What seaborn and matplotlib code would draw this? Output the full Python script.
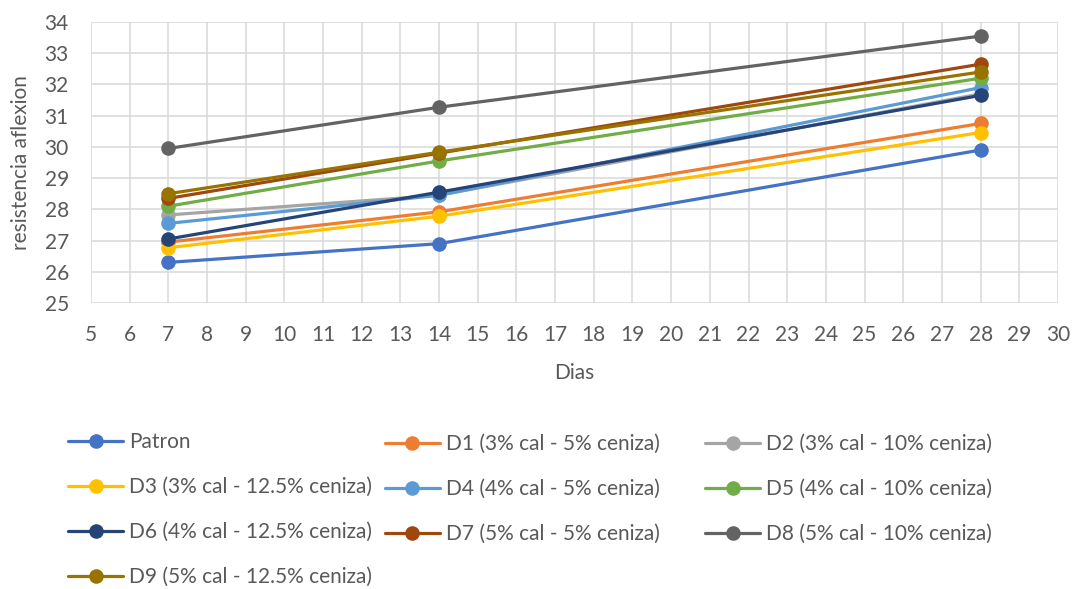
import matplotlib
matplotlib.use("Agg")
import matplotlib.pyplot as plt
import seaborn as sns
import pandas as pd

days = [7, 14, 28]
series_names = ["Patron", "D1 (3% cal - 5% ceniza)", "D2 (3% cal - 10% ceniza)",
                "D3 (3% cal - 12.5% ceniza)", "D4 (4% cal - 5% ceniza)", "D5 (4% cal - 10% ceniza)",
                "D6 (4% cal - 12.5% ceniza)", "D7 (5% cal - 5% ceniza)", "D8 (5% cal - 10% ceniza)",
                "D9 (5% cal - 12.5% ceniza)"]
patron = [26.3, 26.9, 29.9]
d1 = [26.95, 27.92, 30.75]
d2 = [27.82, 28.45, 31.7]
d3 = [26.77, 27.78, 30.46]
d4 = [27.55, 28.45, 31.9]
d5 = [28.1, 29.55, 32.2]
d6 = [27.05, 28.55, 31.65]
d7 = [28.35, 29.8, 32.65]
d8 = [29.95, 31.27, 33.55]
d9 = [28.5, 29.83, 32.4]
values = [patron, d1, d2, d3, d4, d5, d6, d7, d8, d9]
colors = ["#4472C4", "#ED7D31", "#A5A5A5", "#FFC000", "#5B9BD5",
          "#70AD47", "#264478", "#9E480E", "#636363", "#997300"]
x_ticks = list(range(5, 31))
y_ticks = list(range(25, 35))

rows = []
for name, vals in zip(series_names, values):
    for d, v in zip(days, vals):
        rows.append({"Dias": d, "valor": v, "serie": name})
df = pd.DataFrame(rows)

sns.set_theme(style="white")
plt.rcParams['font.family'] = ['Lato', 'DejaVu Sans']

FS = 15
TXT = "#595959"

fig = plt.figure(figsize=(10.78, 5.89), dpi=100)
ax = fig.add_axes([0.0844, 0.4856, 0.897, 0.477])

sns.lineplot(data=df, x="Dias", y="valor", hue="serie", hue_order=series_names,
             palette=dict(zip(series_names, colors)), marker="o", markersize=10.5,
             markeredgewidth=0, linewidth=2.3, ax=ax, legend=True, zorder=3)

ax.set_xlim(5, 30)
ax.set_ylim(25, 34)
ax.set_xticks(x_ticks)
ax.set_yticks(y_ticks)
ax.grid(True, color="#D9D9D9", linewidth=1.1)
ax.set_axisbelow(True)
for s in ax.spines.values():
    s.set_visible(False)
ax.tick_params(axis="x", length=0, labelsize=FS, labelcolor=TXT, pad=16)
ax.tick_params(axis="y", length=0, labelsize=FS, labelcolor=TXT, pad=16)
ax.set_xlabel("Dias", fontsize=FS, color=TXT, labelpad=13)
ax.set_ylabel("resistencia aflexion", fontsize=FS, color=TXT, labelpad=10)

handles, labels = ax.get_legend_handles_labels()
hmap = dict(zip(labels, handles))
ax.get_legend().remove()

columns = [([0, 3, 6, 9], 0.0631, 0.1345), ([1, 4, 7], 0.357, 0.170), ([2, 5, 8], 0.654, 0.170)]
for idx, xpos, ycen in columns:
    fig.legend([hmap[series_names[i]] for i in idx], [series_names[i] for i in idx],
               ncol=1, loc="center left", bbox_to_anchor=(xpos, ycen),
               frameon=False, fontsize=FS, labelcolor=TXT, handlelength=2.65,
               labelspacing=1.2, handletextpad=0.3, borderaxespad=0, borderpad=0)

fig.savefig("out.png", dpi=100)
